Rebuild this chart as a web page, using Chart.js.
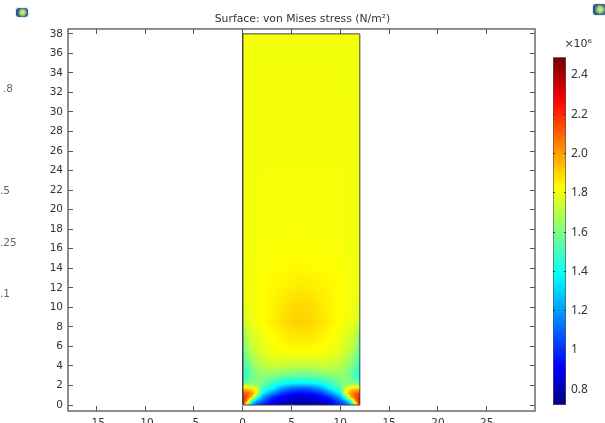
<!DOCTYPE html>
<html><head><meta charset="utf-8">
<script src="https://cdn.jsdelivr.net/npm/chart.js@4"></script>
<style>
html,body{margin:0;padding:0;background:#fff;width:605px;height:423px;overflow:hidden}
#wrap{position:relative;width:605px;height:423px;overflow:hidden;filter:blur(0.45px)}
canvas{position:absolute;top:0}
#main{left:0}
#bar{left:540px}
.s{position:absolute;font:10.5px "DejaVu Sans",sans-serif;color:#666;line-height:12px}
.ic{position:absolute;border-radius:3px;background:radial-gradient(circle at 55% 50%,#e8f080 0,#a8d860 30%,#2a5a9a 62%,#24508c 100%);box-shadow:0 0 2px #9ab}
</style></head><body>
<div id="wrap">
<canvas id="main" width="605" height="423"></canvas>
<canvas id="bar" width="65" height="423"></canvas>
<div class="ic" style="left:16px;top:8px;width:12px;height:9px"></div>
<div class="ic" style="left:593px;top:4px;width:13px;height:11px"></div>
<span class="s" style="left:3px;top:82px">.8</span>
<span class="s" style="left:0;top:184px">.5</span>
<span class="s" style="left:0;top:236px">.25</span>
<span class="s" style="left:0;top:287px">.1</span>
<span class="s" style="left:-6px;top:389px">0</span>
</div>
<script>
// Domain grid
const xCols = [0,0.5,1,1.5,2,3,4,5,6,7,8,9,10,10.5,11,11.5,12];
const yRows = [0,0.4,0.8,1.2,1.7,2.2,2.8,3.4,4,5,6,7,8.5,10,12,14,17,38];
// von Mises stress (×10^6 N/m²), one list per row of yRows
const row00 = [2.3,1.55,1.2,1.05,0.98,0.87,0.81,0.79,0.79,0.79,0.81,0.87,0.98,1.05,1.2,1.55,2.3];
const row01 = [2.3,1.95,1.4,1.2,1.08,0.93,0.85,0.81,0.8,0.81,0.85,0.93,1.08,1.2,1.4,1.95,2.3];
const row02 = [2.25,2.1,1.9,1.45,1.22,1.0,0.91,0.86,0.85,0.86,0.91,1.0,1.22,1.45,1.9,2.1,2.25];
const row03 = [2.15,2.1,2.0,1.8,1.38,1.18,1.02,0.95,0.93,0.95,1.02,1.18,1.38,1.8,2.0,2.1,2.15];
const row04 = [1.9,1.9,1.85,1.72,1.5,1.38,1.2,1.1,1.07,1.1,1.2,1.38,1.5,1.72,1.85,1.9,1.9];
const row05 = [1.55,1.6,1.62,1.62,1.58,1.48,1.4,1.36,1.35,1.36,1.4,1.48,1.58,1.62,1.62,1.6,1.55];
const row06 = [1.42,1.52,1.58,1.62,1.62,1.58,1.54,1.52,1.51,1.52,1.54,1.58,1.62,1.62,1.58,1.52,1.42];
const row07 = [1.4,1.52,1.58,1.63,1.66,1.67,1.65,1.63,1.62,1.63,1.65,1.67,1.66,1.63,1.58,1.52,1.4];
const row08 = [1.45,1.56,1.62,1.67,1.7,1.73,1.73,1.72,1.72,1.72,1.73,1.73,1.7,1.67,1.62,1.56,1.45];
const row09 = [1.5,1.62,1.68,1.72,1.75,1.79,1.8,1.8,1.8,1.8,1.8,1.79,1.75,1.72,1.68,1.62,1.5];
const row10 = [1.56,1.68,1.74,1.77,1.79,1.82,1.83,1.84,1.84,1.84,1.83,1.82,1.79,1.77,1.74,1.68,1.56];
const row11 = [1.6,1.72,1.76,1.78,1.8,1.83,1.85,1.87,1.87,1.87,1.85,1.83,1.8,1.78,1.76,1.72,1.6];
const row12 = [1.72,1.78,1.8,1.81,1.83,1.85,1.88,1.9,1.91,1.9,1.88,1.85,1.83,1.81,1.8,1.78,1.72];
const row13 = [1.77,1.8,1.81,1.82,1.83,1.85,1.87,1.89,1.9,1.89,1.87,1.85,1.83,1.82,1.81,1.8,1.77];
const row14 = [1.79,1.81,1.81,1.82,1.83,1.84,1.85,1.86,1.87,1.86,1.85,1.84,1.83,1.82,1.81,1.81,1.79];
const row15 = [1.8,1.81,1.81,1.82,1.82,1.83,1.83,1.84,1.84,1.84,1.83,1.83,1.82,1.82,1.81,1.81,1.8];
const row16 = [1.81,1.81,1.81,1.81,1.82,1.82,1.82,1.82,1.82,1.82,1.82,1.82,1.82,1.81,1.81,1.81,1.81];
const row17 = [1.81,1.81,1.81,1.81,1.81,1.81,1.81,1.81,1.81,1.81,1.81,1.81,1.81,1.81,1.81,1.81,1.81];
const rows = [row00,row01,row02,row03,row04,row05,row06,row07,row08,row09,row10,row11,row12,row13,row14,row15,row16,row17];
// Domain outline
const outlineX = [0,12,12,0,0];
const outlineY = [0,0,38,38,0];
// Colour scale
const scaleMin = 0.72, scaleMax = 2.49;
const stopValues = [0.72,0.915,1.38,1.83,2.27,2.49];
const stopColors = [[0,0,128],[0,0,255],[0,255,255],[255,255,0],[255,0,0],[112,0,0]];
const titleText = 'Surface: von Mises stress (N/m\u00B2)';
const barUnit = '\u00D710\u2076';

function colorOf(v){
  v = Math.max(scaleMin, Math.min(scaleMax, v));
  let i = 0;
  while (i < stopValues.length-2 && v > stopValues[i+1]) i++;
  const t = (v-stopValues[i])/(stopValues[i+1]-stopValues[i]);
  return stopColors[i].map((c,k)=>c+(stopColors[i+1][k]-c)*t);
}

const heatPlugin = {
  id:'heat',
  beforeDatasetsDraw(chart){
    const pts = chart.getDatasetMeta(0).data, nc = xCols.length, nr = yRows.length;
    const X = xCols.map((_,c)=>pts[c].x), Y = yRows.map((_,r)=>pts[r*nc].y);
    const x0 = Math.round(X[0]), x1 = Math.round(X[nc-1]), y0 = Math.round(Y[nr-1]), y1 = Math.round(Y[0]);
    const w = x1-x0, h = y1-y0;
    const off = document.createElement('canvas'); off.width = w; off.height = h;
    const oc = off.getContext('2d'), img = oc.createImageData(w,h);
    for (let py=0; py<h; py++){
      const sy = y0+py+0.5;
      let r = 0; while (r < nr-2 && sy < Y[r+1]) r++;
      const tr = Math.max(0,Math.min(1,(Y[r]-sy)/(Y[r]-Y[r+1])));
      for (let px=0; px<w; px++){
        const sx = x0+px+0.5;
        let c = 0; while (c < nc-2 && sx > X[c+1]) c++;
        const tc = Math.max(0,Math.min(1,(sx-X[c])/(X[c+1]-X[c])));
        const v = (rows[r][c]*(1-tc)+rows[r][c+1]*tc)*(1-tr)+(rows[r+1][c]*(1-tc)+rows[r+1][c+1]*tc)*tr;
        const col = colorOf(v), o = (py*w+px)*4;
        img.data[o]=col[0]; img.data[o+1]=col[1]; img.data[o+2]=col[2]; img.data[o+3]=255;
      }
    }
    oc.putImageData(img,0,0);
    chart.ctx.drawImage(off,x0,y0);
  }
};
const framePlugin = {
  id:'frame',
  afterDraw(chart){
    const a = chart.chartArea, c = chart.ctx;
    c.save(); c.strokeStyle='#6a6a6a'; c.lineWidth=1.5;
    c.strokeRect(a.left,a.top,a.right-a.left,a.bottom-a.top); c.restore();
  }
};

const fieldPoints = [];
yRows.forEach((y,r)=>xCols.forEach((x,c)=>fieldPoints.push({x,y,v:rows[r][c]})));
const font = {family:'"DejaVu Sans"',size:10.5,weight:'normal'};

new Chart(document.getElementById('main'),{
  type:'scatter',
  plugins:[heatPlugin,framePlugin],
  data:{datasets:[
    {data:fieldPoints,pointRadius:0,showLine:false},
    {type:'line',data:outlineX.map((x,i)=>({x,y:outlineY[i]})),borderColor:'#444',borderWidth:1,pointRadius:0,fill:false,tension:0}
  ]},
  options:{
    responsive:false,animation:false,
    layout:{padding:0},
    plugins:{legend:{display:false},tooltip:{enabled:false},
      title:{display:true,text:titleText,color:'#333',font:{family:'"DejaVu Sans"',size:10.8,weight:'normal'},padding:{top:13,bottom:3}}},
    scales:{
      x:{type:'linear',min:-17.9,max:29.95,
        ticks:{stepSize:5,includeBounds:false,color:'#333',font,padding:6,maxRotation:0,autoSkip:false},
        grid:{drawTicks:false,color:'#555',lineWidth:1},
        border:{display:false,dash:[5,372,5,1000]},
        afterFit(s){s.height=12;}},
      y:{type:'linear',min:-0.61,max:38.5,
        ticks:{stepSize:2,includeBounds:false,color:'#333',font,padding:5,autoSkip:false},
        grid:{drawTicks:false,color:'#555',lineWidth:1},
        border:{display:false,dash:[5,457,5,1000]},
        afterFit(s){s.width=68;}},
      yRight:{type:'linear',position:'right',min:-0.61,max:38.5,
        ticks:{display:false},grid:{display:false},border:{display:false},
        afterFit(s){s.width=70;}}
    }
  }
});

new Chart(document.getElementById('bar'),{
  type:'bar',
  data:{labels:['stress'],datasets:[{
    data:[[scaleMin,scaleMax]],
    barPercentage:1,categoryPercentage:1,borderWidth:1,borderColor:'#555',borderSkipped:false,
    backgroundColor(ctx){
      const s = ctx.chart.scales.y;
      const p0 = s ? s.getPixelForValue(scaleMin) : NaN, p1 = s ? s.getPixelForValue(scaleMax) : NaN;
      if(!isFinite(p0) || !isFinite(p1)) return '#888';
      const g = ctx.chart.ctx.createLinearGradient(0,p0,0,p1);
      stopValues.forEach((v,i)=>g.addColorStop((v-scaleMin)/(scaleMax-scaleMin),'rgb('+stopColors[i].join(',')+')'));
      return g;
    }
  }]},
  options:{
    responsive:false,animation:false,
    layout:{padding:{left:13,right:13,top:0,bottom:18}},
    plugins:{legend:{display:false},tooltip:{enabled:false},
      title:{display:true,text:barUnit,align:'end',color:'#333',font:{family:'"DejaVu Sans"',size:11,weight:'normal'},padding:{top:38,bottom:6}}},
    scales:{
      x:{display:false},
      y:{position:'right',min:scaleMin,max:scaleMax,
        ticks:{stepSize:0.2,includeBounds:false,color:'#333',font:{family:'"Noto Sans"',size:12},padding:5,crossAlign:'near',
          callback(v){return Math.abs(v-1)<1e-6?'1':v.toFixed(1);}},
        grid:{drawTicks:false,color:'#333',z:1},
        border:{display:false,dash:[2,9,2,100]},
        afterFit(s){s.width=26;}}
    }
  }
});
</script>
</body></html>
